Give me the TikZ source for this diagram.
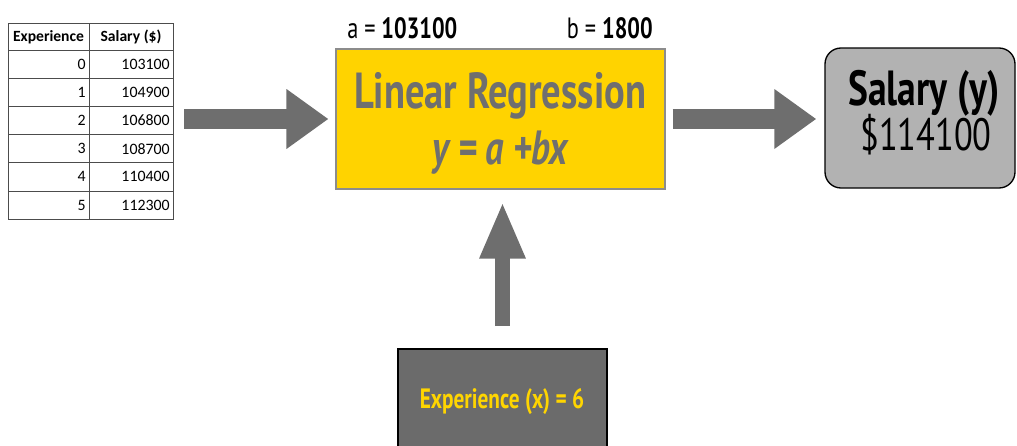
\documentclass[tikz,border=0pt]{standalone}
\usepackage{fontspec}
\usepackage{xcolor}
\usepackage{tikz}
\usetikzlibrary{arrows.meta,positioning}
\setmainfont{PT Sans}
\newfontfamily\dinfont[FakeStretch=0.76]{PT Sans}
\newfontfamily\tabfont{Carlito}

\definecolor{lryellow}{HTML}{FFD300}
\definecolor{txtgray}{HTML}{6F6F6F}
\definecolor{arrgray}{HTML}{6E6E6E}
\definecolor{salfill}{HTML}{B2B2B2}
\definecolor{expfill}{HTML}{6B6B6B}
\definecolor{expyellow}{HTML}{FFD500}

\tikzset{
    bigarrow/.style={arrgray, line width=15pt,
        -{Triangle[length=31.5pt, width=42.75pt]}},
    thinarrow/.style={arrgray, line width=11.25pt,
        -{Triangle[length=42.75pt, width=31.5pt]}},
    cell/.style={inner sep=0pt, font=\tabfont\fontsize{11.9}{12}\selectfont}
}

\begin{document}
\begin{tikzpicture}[x=0.75pt, y=-0.75pt]
    \useasboundingbox (0,0) rectangle (1017,446);
    \clip (0,0) rectangle (1017,446);

    % Table of data
    \node[draw=black!70, line width=0.7pt, minimum width=123.75pt,
          minimum height=147pt, inner sep=0pt] (tab) at (90.5,121) {};
    \draw[black!70, line width=0.7pt] (89,23) -- (89,219);
    \draw[black!70, line width=0.7pt] (8,50) -- (173,50);
    \foreach \i in {1,...,5}
        \draw[black!70, line width=0.7pt] (8,50+28.2*\i) -- (173,50+28.2*\i);
    \node[cell, font=\tabfont\bfseries\fontsize{11.7}{12}\selectfont] (ehead) at (48.5,37) {Experience};
    \node[cell, font=\tabfont\bfseries\fontsize{11.7}{12}\selectfont] (shead) at (131,37) {Salary (\$)};
    \foreach \e/\s [count=\k from 0] in {0/103100,1/104900,2/106800,3/108700,4/110400,5/112300} {
        \node[cell, anchor=east] (e\k) at (86,64.1+28.2*\k) {\e};
        \node[cell, anchor=east] (s\k) at (170,64.1+28.2*\k) {\s};
    }

    % Model box
    \node[draw=black!45, fill=lryellow, line width=0.8pt, minimum width=246.75pt,
          minimum height=105pt] (lr) at (500.5,119) {};
    \node[txtgray, font=\dinfont\bfseries\fontsize{38}{40}\selectfont, anchor=base]
        (lrname) at (500,108) {Linear Regression};
    \node[txtgray, font=\dinfont\bfseries\itshape\fontsize{36}{38}\selectfont, anchor=base]
        (lreq) at (500,164) {y = a +bx};

    % Coefficients
    \node[font=\dinfont\fontsize{22}{24}\selectfont, anchor=base west, inner sep=0pt]
        (coefa) at (347,38) {a = \textbf{103100}};
    \node[font=\dinfont\fontsize{22}{24}\selectfont, anchor=base east, inner sep=0pt]
        (coefb) at (653,38) {b = \textbf{1800}};

    % Output box
    \node[draw=black, fill=salfill, line width=1pt, rounded corners=12pt,
          minimum width=142.5pt, minimum height=105pt] (sal) at (920,118) {};
    \node[font=\dinfont\bfseries\fontsize{37}{39}\selectfont, anchor=base]
        (salname) at (924,105) {Salary (y)};
    \node[font=\dinfont\fontsize{34}{36}\selectfont, anchor=base]
        (salval) at (926,150) {\$114100};

    % Input box
    \node[draw=black, fill=expfill, line width=1.5pt, minimum width=156.75pt,
          minimum height=90pt] (exp) at (502.5,409) {};
    \node[expyellow, font=\dinfont\bfseries\fontsize{21}{23}\selectfont, anchor=base]
        (expname) at (502,408) {Experience (x) = 6};

    % Arrows
    \draw[bigarrow, shorten <=8.25pt, shorten >=5.25pt] (lr.west -| tab.east) -- (lr.west);
    \draw[bigarrow, shorten <=5.25pt, shorten >=6pt] (lr.east) -- (lr.east -| sal.west);
    \draw[thinarrow, shorten <=16.5pt, shorten >=9pt] (exp.north) -- (exp.north |- lr.south);
\end{tikzpicture}
\end{document}
